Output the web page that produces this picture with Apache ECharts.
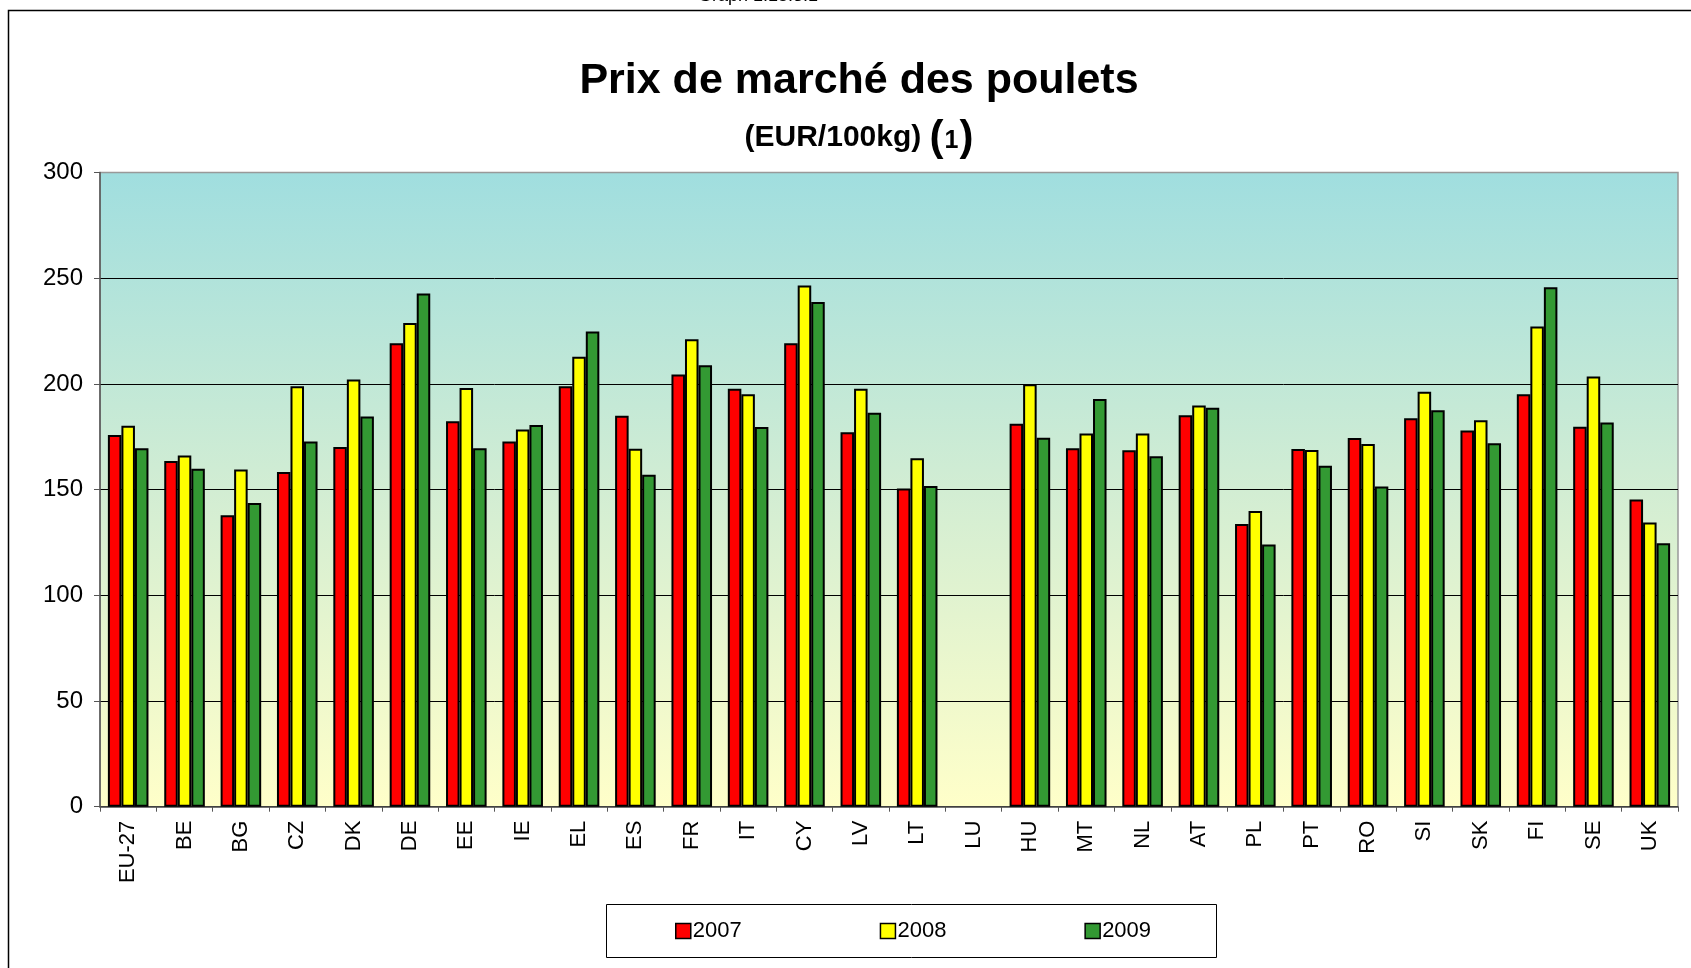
<!DOCTYPE html>
<html>
<head>
<meta charset="utf-8">
<script src="https://cdn.jsdelivr.net/npm/echarts@6/dist/echarts.min.js"></script>
<style>
  html, body { margin: 0; padding: 0; background: #fff; }
  #chart { width: 1691px; height: 968px; }
</style>
</head>
<body>
<div id="chart"></div>
<script>
// Market prices of chickens by member state (EUR/100kg)
const countries = ['EU-27','BE','BG','CZ','DK','DE','EE','IE','EL','ES','FR','IT','CY','LV','LT','LU','HU','MT','NL','AT','PL','PT','RO','SI','SK','FI','SE','UK'];
const years = ['2007', '2008', '2009'];
const prices2007 = [175.8,163.6,137.9,158.3,170.2,219.3,182.4,172.8,198.9,185.0,204.5,197.7,219.3,177.2,150.5,null,181.2,169.6,168.6,185.2,133.7,169.2,174.4,183.8,178.0,195.1,179.8,145.3];
const prices2008 = [180.2,166.2,159.5,198.9,202.1,228.8,198.1,178.4,212.9,169.4,221.2,195.1,246.6,197.7,164.8,null,199.9,176.6,176.6,189.8,139.9,168.8,171.6,196.3,182.8,227.2,203.5,134.5];
const prices2009 = [169.6,159.9,143.7,172.8,184.6,242.8,169.6,180.6,224.8,157.1,208.9,179.6,238.8,186.4,151.7,null,174.6,192.9,165.8,188.8,124.0,161.3,151.5,187.6,172.0,245.8,181.8,124.6];
const yTicks = { min: 0, max: 300, step: 50 };

const FONT = "'Liberation Sans', Arial, sans-serif";
const colors = ['#FF0000', '#FFFF00', '#339933'];
const seriesData = [prices2007, prices2008, prices2009];

const chart = echarts.init(document.getElementById('chart'), null, { renderer: 'canvas' });

const option = {
  animation: false,
  backgroundColor: '#fff',
  textStyle: { fontFamily: FONT },
  graphic: [
    { type: 'rect', silent: true, z: -10,
      shape: { x: 8.5, y: 10.5, width: 1700, height: 1000 },
      style: { fill: 'none', stroke: '#000', lineWidth: 1.5 } },
    { type: 'text', silent: true, x: 758, y: -13,
      style: { text: 'Graph 1.15.3.1', font: "18px " + FONT, fill: '#000', textAlign: 'center' } },
    { type: 'text', silent: true, x: 859, y: 81,
      style: { text: 'Prix de marché des poulets', font: "bold 43px " + FONT, fill: '#000',
               textAlign: 'center', textVerticalAlign: 'middle' } },
    { type: 'text', silent: true, x: 859, y: 138,
      style: {
        text: '{a|(EUR/100kg) }{b|(}{c|1}{b|)}',
        textAlign: 'center', textVerticalAlign: 'middle',
        rich: {
          a: { font: "bold 30px " + FONT, fill: '#000', verticalAlign: 'middle' },
          b: { font: "bold 42px " + FONT, fill: '#000', verticalAlign: 'middle' },
          c: { font: "bold 25px " + FONT, fill: '#000', verticalAlign: 'middle', padding: [6, 1, 0, 1] }
        }
      } },
    { type: 'rect', silent: true,
      shape: { x: 606.5, y: 904.5, width: 610, height: 53 },
      style: { fill: '#fff', stroke: '#000', lineWidth: 1 } }
  ],
  legend: {
    data: years,
    left: 675, top: 920, padding: 0,
    itemWidth: 15, itemHeight: 15, itemGap: 138,
    icon: 'rect',
    itemStyle: { borderColor: '#000', borderWidth: 1.5 },
    textStyle: { fontSize: 22, color: '#000', fontFamily: FONT, padding: [0, 0, 0, -3] },
    z: 10
  },
  grid: {
    left: 100, right: 13, top: 172.6, bottom: 161.3,
    show: true,
    borderColor: '#999', borderWidth: 1.5,
    backgroundColor: {
      type: 'linear', x: 0, y: 0, x2: 0, y2: 1,
      colorStops: [
        { offset: 0, color: '#A0DEDF' },
        { offset: 0.5, color: '#D2EDD3' },
        { offset: 1, color: '#FFFFC9' }
      ]
    }
  },
  xAxis: {
    type: 'category',
    data: countries,
    axisLine: { lineStyle: { color: '#555', width: 1.5 } },
    axisTick: { show: true, length: 5, lineStyle: { color: '#555' } },
    axisLabel: { rotate: 90, fontSize: 22, color: '#000', margin: 14, fontFamily: FONT },
    splitLine: { show: false }
  },
  yAxis: {
    type: 'value',
    min: yTicks.min, max: yTicks.max, interval: yTicks.step,
    axisLine: { show: true, lineStyle: { color: '#555', width: 1.5 } },
    axisTick: { show: true, length: 6, lineStyle: { color: '#555' } },
    axisLabel: { fontSize: 24, color: '#000', margin: 17, fontFamily: FONT },
    splitLine: { show: true, lineStyle: { color: ['#000','#000','#000','#000','#000','#000','#999'], width: 1 } }
  },
  series: years.map((y, i) => ({
    name: y,
    type: 'bar',
    data: seriesData[i],
    barGap: '0%',
    barCategoryGap: '28%',
    itemStyle: { color: colors[i], borderColor: '#000', borderWidth: 2 }
  }))
};

chart.setOption(option);
</script>
</body>
</html>
